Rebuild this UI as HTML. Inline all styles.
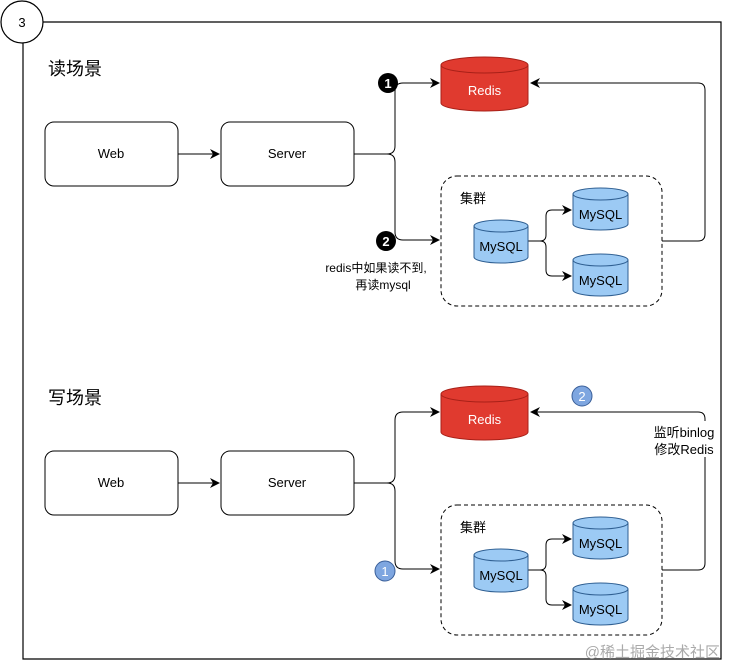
<!DOCTYPE html>
<html><head><meta charset="utf-8"><style>
html,body{margin:0;padding:0;background:#fff}
svg{display:block}
text{font-family:"Liberation Sans","Noto Sans CJK SC",sans-serif}
</style></head><body>
<svg width="729" height="665" viewBox="0 0 729 665" xmlns="http://www.w3.org/2000/svg">
<defs>
<marker id="a" markerWidth="10" markerHeight="10" refX="9" refY="5" orient="auto" markerUnits="userSpaceOnUse">
<path d="M0,0 L10,5 L0,10 L3,5 Z" fill="#000"/></marker>
<g id="cyl">
</g>
</defs>
<rect x="0" y="0" width="729" height="665" fill="#fff"/>
<path d="M22,22 H721 V659 H23 V22" fill="none" stroke="#000" stroke-width="1.2"/>
<circle cx="22" cy="22" r="21" fill="#fff" stroke="#000" stroke-width="1.2"/>
<text x="22" y="27" font-size="13" text-anchor="middle">3</text>

<g id="sec">
<text x="48" y="75" font-size="18">读场景</text>
<rect x="45" y="122" width="133" height="64" rx="9" fill="#fff" stroke="#000"/>
<text x="111" y="158" font-size="13" text-anchor="middle">Web</text>
<rect x="221" y="122" width="133" height="64" rx="9" fill="#fff" stroke="#000"/>
<text x="287" y="158" font-size="13" text-anchor="middle">Server</text>
<path d="M178,154 H219" stroke="#000" fill="none" marker-end="url(#a)"/>
<path d="M354,154 H387 Q395,154 395,146 V91 Q395,83 403,83 H439" stroke="#000" fill="none" marker-end="url(#a)"/>
<path d="M387,154 Q395,154 395,162 V232 Q395,240 403,240 H439" stroke="#000" fill="none" marker-end="url(#a)"/>
<!-- redis -->
<path d="M441,65 V103 A43.5,8 0 0 0 528,103 V65" fill="#e03a2f" stroke="#a82018"/>
<ellipse cx="484.5" cy="65" rx="43.5" ry="8" fill="#e03a2f" stroke="#a82018"/>
<text x="484.5" y="95" font-size="13" fill="#fff" text-anchor="middle">Redis</text>
<!-- cluster -->
<rect x="441" y="176" width="221" height="130" rx="16" fill="none" stroke="#000" stroke-dasharray="4,3"/>
<text x="460" y="203" font-size="13">集群</text>
<path d="M528,241 H540 Q546,241 546,235 V216 Q546,210 552,210 H571" stroke="#000" fill="none" marker-end="url(#a)"/>
<path d="M540,241 Q546,241 546,247 V270 Q546,276 552,276 H571" stroke="#000" fill="none" marker-end="url(#a)"/>
<path d="M474,226 V257 A27,6 0 0 0 528,257 V226" fill="#9ccaf4" stroke="#2f5f92"/>
<ellipse cx="501" cy="226" rx="27" ry="6" fill="#9ccaf4" stroke="#2f5f92"/>
<text x="501" y="251" font-size="13" text-anchor="middle">MySQL</text>
<path d="M573,194 V224 A27.5,6 0 0 0 628,224 V194" fill="#9ccaf4" stroke="#2f5f92"/>
<ellipse cx="600.5" cy="194" rx="27.5" ry="6" fill="#9ccaf4" stroke="#2f5f92"/>
<text x="600.5" y="219" font-size="13" text-anchor="middle">MySQL</text>
<path d="M573,260 V290 A27.5,6 0 0 0 628,290 V260" fill="#9ccaf4" stroke="#2f5f92"/>
<ellipse cx="600.5" cy="260" rx="27.5" ry="6" fill="#9ccaf4" stroke="#2f5f92"/>
<text x="600.5" y="285" font-size="13" text-anchor="middle">MySQL</text>
<path d="M662,241 H698 Q705,241 705,234 V90 Q705,83 698,83 H531" stroke="#000" fill="none" marker-end="url(#a)"/>
</g>
<!-- top badges -->
<circle cx="388" cy="83" r="10" fill="#000"/>
<text x="388" y="88" font-size="13" font-weight="bold" fill="#fff" text-anchor="middle">1</text>
<circle cx="386" cy="241" r="10" fill="#000"/>
<text x="386" y="246" font-size="13" font-weight="bold" fill="#fff" text-anchor="middle">2</text>
<text x="376" y="272" font-size="12" text-anchor="middle">redis中如果读不到,</text>
<text x="383" y="289" font-size="12" text-anchor="middle">再读mysql</text>

<!-- bottom section -->
<g transform="translate(0,329)">
<text x="48" y="75" font-size="18">写场景</text>
<rect x="45" y="122" width="133" height="64" rx="9" fill="#fff" stroke="#000"/>
<text x="111" y="158" font-size="13" text-anchor="middle">Web</text>
<rect x="221" y="122" width="133" height="64" rx="9" fill="#fff" stroke="#000"/>
<text x="287" y="158" font-size="13" text-anchor="middle">Server</text>
<path d="M178,154 H219" stroke="#000" fill="none" marker-end="url(#a)"/>
<path d="M354,154 H387 Q395,154 395,146 V91 Q395,83 403,83 H439" stroke="#000" fill="none" marker-end="url(#a)"/>
<path d="M387,154 Q395,154 395,162 V232 Q395,240 403,240 H439" stroke="#000" fill="none" marker-end="url(#a)"/>
<path d="M441,65 V103 A43.5,8 0 0 0 528,103 V65" fill="#e03a2f" stroke="#a82018"/>
<ellipse cx="484.5" cy="65" rx="43.5" ry="8" fill="#e03a2f" stroke="#a82018"/>
<text x="484.5" y="95" font-size="13" fill="#fff" text-anchor="middle">Redis</text>
<rect x="441" y="176" width="221" height="130" rx="16" fill="none" stroke="#000" stroke-dasharray="4,3"/>
<text x="460" y="203" font-size="13">集群</text>
<path d="M528,241 H540 Q546,241 546,235 V216 Q546,210 552,210 H571" stroke="#000" fill="none" marker-end="url(#a)"/>
<path d="M540,241 Q546,241 546,247 V270 Q546,276 552,276 H571" stroke="#000" fill="none" marker-end="url(#a)"/>
<path d="M474,226 V257 A27,6 0 0 0 528,257 V226" fill="#9ccaf4" stroke="#2f5f92"/>
<ellipse cx="501" cy="226" rx="27" ry="6" fill="#9ccaf4" stroke="#2f5f92"/>
<text x="501" y="251" font-size="13" text-anchor="middle">MySQL</text>
<path d="M573,194 V224 A27.5,6 0 0 0 628,224 V194" fill="#9ccaf4" stroke="#2f5f92"/>
<ellipse cx="600.5" cy="194" rx="27.5" ry="6" fill="#9ccaf4" stroke="#2f5f92"/>
<text x="600.5" y="219" font-size="13" text-anchor="middle">MySQL</text>
<path d="M573,260 V290 A27.5,6 0 0 0 628,290 V260" fill="#9ccaf4" stroke="#2f5f92"/>
<ellipse cx="600.5" cy="260" rx="27.5" ry="6" fill="#9ccaf4" stroke="#2f5f92"/>
<text x="600.5" y="285" font-size="13" text-anchor="middle">MySQL</text>
<path d="M662,241 H698 Q705,241 705,234 V90 Q705,83 698,83 H531" stroke="#000" fill="none" marker-end="url(#a)"/>
<rect x="650" y="92" width="68" height="36" fill="#fff"/>
<text x="684" y="108" font-size="13" text-anchor="middle">监听binlog</text>
<text x="684" y="125" font-size="13" text-anchor="middle">修改Redis</text>
</g>
<circle cx="582" cy="396" r="10" fill="#7ea6e0" stroke="#3a5f99"/>
<text x="582" y="401" font-size="13" fill="#fff" text-anchor="middle">2</text>
<circle cx="385" cy="571" r="10" fill="#7ea6e0" stroke="#3a5f99"/>
<text x="385" y="576" font-size="13" fill="#fff" text-anchor="middle">1</text>
<text x="720" y="657" font-size="15" fill="#aaa" text-anchor="end">@稀土掘金技术社区</text>
</svg>
</body></html>
